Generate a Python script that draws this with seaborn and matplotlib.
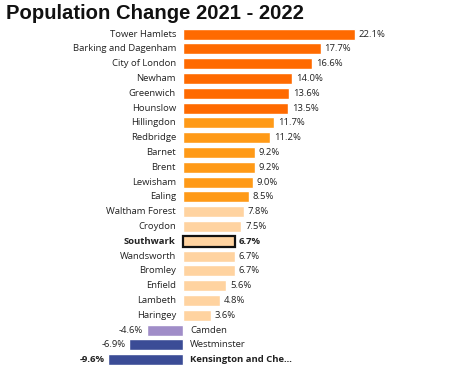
import matplotlib
matplotlib.use("Agg")
import matplotlib.pyplot as plt
import pandas as pd
import seaborn as sns

sns.set_theme(style="white")
plt.rcParams["font.family"] = ["Open Sans", "DejaVu Sans"]

# ------------------------------------------------------------------
# data
# ------------------------------------------------------------------
boroughs = [
    "Tower Hamlets", "Barking and Dagenham", "City of London", "Newham", "Greenwich",
    "Hounslow", "Hillingdon", "Redbridge", "Barnet", "Brent", "Lewisham", "Ealing",
    "Waltham Forest", "Croydon", "Southwark", "Wandsworth", "Bromley", "Enfield",
    "Lambeth", "Haringey", "Camden", "Westminster", "Kensington and Che...",
]
change_pct = [
    22.1, 17.7, 16.6, 14.0, 13.6, 13.5, 11.7, 11.2, 9.2, 9.2, 9.0, 8.5,
    7.8, 7.5, 6.7, 6.7, 6.7, 5.6, 4.8, 3.6, -4.6, -6.9, -9.6,
]
highlighted = ["Southwark", "Kensington and Che..."]

DARK_ORANGE = "#FF6A00"
ORANGE = "#FF9A17"
PEACH = "#FFD3A0"
PURPLE = "#A08DC8"
NAVY = "#3B4C96"


def bar_colour(v):
    if v >= 13:
        return DARK_ORANGE
    if v >= 8:
        return ORANGE
    if v > 0:
        return PEACH
    if v > -5:
        return PURPLE
    return NAVY


df = pd.DataFrame({"borough": boroughs, "change": change_pct})
palette = {b: bar_colour(v) for b, v in zip(boroughs, change_pct)}

fig = plt.figure(figsize=(4.74, 3.66), dpi=100)
ax = fig.add_axes([0, 0, 1, 1])

sns.barplot(data=df, x="change", y="borough", hue="borough", palette=palette,
            orient="h", width=0.74, saturation=1, legend=False, ax=ax)

# outline the Southwark bar
for patch, name in zip(ax.patches, boroughs):
    if name == "Southwark":
        patch.set_edgecolor("#111111")
        patch.set_linewidth(1.6)

for i, (name, v) in enumerate(zip(boroughs, change_pct)):
    weight = "bold" if name in highlighted else "normal"
    if v >= 0:
        ax.text(-0.9, i, name, ha="right", va="center", fontsize=6.8,
                color="#222222", fontweight=weight)
        ax.text(v + 0.5, i, f"{v:.1f}%", ha="left", va="center", fontsize=6.8,
                color="#222222", fontweight=weight)
    else:
        ax.text(0.9, i, name, ha="left", va="center", fontsize=6.8,
                color="#222222", fontweight=weight)
        ax.text(v - 0.5, i, f"{v:.1f}%", ha="right", va="center", fontsize=6.8,
                color="#222222", fontweight=weight)

ax.set_xlim(-23.5, 37.4)
ax.set_ylim(22.43, -2.30)
ax.axis("off")

fig.text(0.012, 0.99, "Population Change 2021 - 2022", ha="left", va="top",
         fontsize=14.6, fontweight="bold", family=["Liberation Sans", "DejaVu Sans"],
         color="#111111")

fig.savefig("out.png", dpi=100)
